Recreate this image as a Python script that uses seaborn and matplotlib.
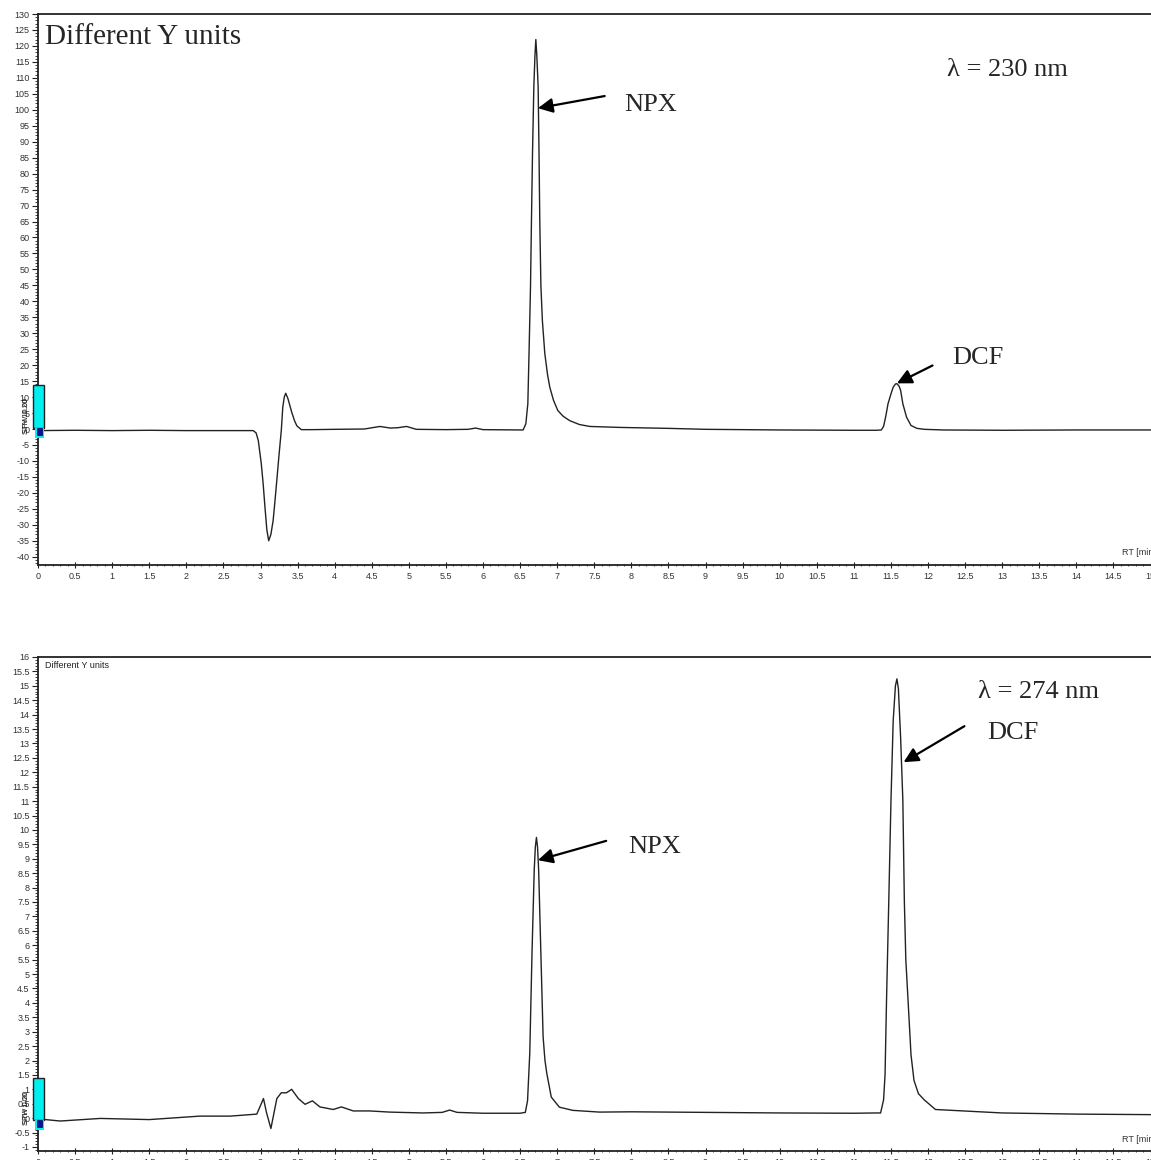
import numpy as np
import pandas as pd
import matplotlib
matplotlib.use("Agg")
import matplotlib.pyplot as plt
import matplotlib.ticker as mticker
from matplotlib.patches import Rectangle
import seaborn as sns

# ---------------- data ----------------
# 230 nm trace (top)
t230 = [0.0, 0.5, 1.0, 1.5, 2.0, 2.5, 2.9, 2.94, 2.97, 3.01, 3.035, 3.06, 3.085, 3.11, 3.14,
        3.17, 3.195, 3.22, 3.25, 3.28, 3.30, 3.32, 3.34, 3.37, 3.42, 3.46, 3.49, 3.55,
        3.7, 4.0, 4.4, 4.61, 4.75, 4.85, 4.97, 5.1, 5.5, 5.8, 5.9, 6.0,
        6.50, 6.54, 6.577, 6.604, 6.62, 6.640, 6.653, 6.667, 6.685, 6.700, 6.712, 6.725,
        6.743, 6.755, 6.765, 6.78, 6.80, 6.833, 6.87, 6.90, 6.95, 7.008, 7.08, 7.17, 7.3,
        7.44, 7.84, 8.5, 9.0, 10.0, 11.0, 11.3, 11.37, 11.40, 11.43, 11.46, 11.50, 11.53,
        11.56, 11.58, 11.61, 11.63, 11.66, 11.71, 11.77, 11.85, 11.95, 12.2, 13.0, 14.0, 15.1]
s230 = [-0.5, -0.4, -0.5, -0.4, -0.5, -0.5, -0.5, -1.2, -3.6, -10.8, -17.0, -24.5, -31.5, -35.0, -33.0,
        -28.7, -22.5, -16.0, -8.0, -0.5, 6.8, 10.0, 11.2, 9.5, 5.3, 2.5, 1.0, -0.2,
        -0.2, -0.1, 0.0, 0.8, 0.3, 0.4, 0.8, -0.1, -0.2, -0.1, 0.3, -0.2,
        -0.3, -0.3, 1.6, 7.9, 23.6, 44.5, 65.4, 86.3, 107.2, 117.0, 122.0, 117.0,
        107.2, 86.0, 65.4, 45.0, 34.0, 23.6, 17.0, 13.1, 9.0, 5.8, 4.0, 2.6, 1.4,
        0.8, 0.5, 0.2, -0.1, -0.3, -0.4, -0.4, -0.3, 0.8, 4.0, 7.9, 11.0, 13.1,
        14.1, 14.2, 13.4, 12.1, 7.9, 3.7, 1.1, 0.2, -0.1, -0.3, -0.4, -0.3, -0.3]

# 274 nm trace (bottom)
t274 = [0.0, 0.1, 0.3, 0.84, 1.5, 2.18, 2.59, 2.95, 3.04, 3.08, 3.14, 3.22, 3.28, 3.35,
        3.42, 3.51, 3.60, 3.70, 3.80, 3.98, 4.09, 4.25, 4.47, 4.74, 5.19, 5.45, 5.55,
        5.65, 6.0, 6.5, 6.57, 6.60, 6.63, 6.66, 6.69, 6.705, 6.72, 6.735, 6.75, 6.78,
        6.81, 6.835, 6.86, 6.92, 7.03, 7.21, 7.57, 8.0, 9.0, 10.0, 11.0, 11.3, 11.36,
        11.40, 11.42, 11.44, 11.47, 11.50, 11.53, 11.56, 11.58, 11.60, 11.63, 11.66, 11.68,
        11.70, 11.73, 11.77, 11.81, 11.87, 11.95, 12.1, 13.0, 14.0, 15.1]
s274 = [-0.05, -0.05, -0.10, -0.01, -0.05, 0.07, 0.07, 0.14, 0.68, 0.20, -0.36, 0.68, 0.88, 0.88,
        1.00, 0.68, 0.48, 0.60, 0.39, 0.30, 0.39, 0.25, 0.25, 0.21, 0.18, 0.20, 0.28,
        0.20, 0.17, 0.17, 0.20, 0.60, 2.25, 5.7, 8.6, 9.4, 9.74, 9.4, 8.6, 5.7,
        2.82, 2.0, 1.55, 0.73, 0.38, 0.27, 0.21, 0.22, 0.20, 0.18, 0.17, 0.18, 0.18,
        0.63, 1.5, 4.09, 7.5, 11.03, 13.8, 15.0, 15.24, 14.9, 13.2, 11.03, 7.56,
        5.5, 4.09, 2.2, 1.31, 0.85, 0.63, 0.30, 0.18, 0.14, 0.12]

x_ticks = np.arange(0, 15.01, 0.5)
y_ticks_top = np.arange(-40, 130.1, 5)
y_ticks_bot = np.arange(-1, 16.01, 0.5)

df230 = pd.DataFrame({"RT": t230, "signal": s230})
df274 = pd.DataFrame({"RT": t274, "signal": s274})

# ---------------- figure ----------------
sns.set_theme(style="white")
plt.rcParams["font.family"] = ["Liberation Sans", "DejaVu Sans"]

W, H = 1151, 1160
fig = plt.figure(figsize=(W / 100, H / 100), dpi=100)

def px_axes(left, top, right, bottom):
    return fig.add_axes([left / W, 1 - bottom / H, (right - left) / W, (bottom - top) / H])

ax1 = px_axes(38, 14, 1158, 565)
ax2 = px_axes(38, 657, 1158, 1151)

tick_col = "#333333"
for ax, df, yt, ylim, minor_y in [
    (ax1, df230, y_ticks_top, (-42.6, 130), 1.0),
    (ax2, df274, y_ticks_bot, (-1.14, 16), 0.1),
]:
    sns.lineplot(data=df, x="RT", y="signal", ax=ax, color="#222222", lw=1.0,
                 estimator=None, sort=False)
    ax.set_xlim(0, 15.1)
    ax.set_ylim(*ylim)
    ax.set_xticks(x_ticks)
    ax.set_yticks(yt)
    ax.xaxis.set_minor_locator(mticker.MultipleLocator(0.1))
    ax.yaxis.set_minor_locator(mticker.MultipleLocator(minor_y))
    fmt = mticker.FuncFormatter(lambda v, p: f"{v:g}")
    ax.xaxis.set_major_formatter(fmt)
    ax.yaxis.set_major_formatter(fmt)
    ax.tick_params(axis="both", which="major", labelsize=6.5, colors="#222222",
                   labelcolor=tick_col, length=4, width=0.8)
    ax.tick_params(axis="both", which="minor", length=2, width=0.6, colors="#222222")
    ax.tick_params(axis="x", which="both", direction="inout", bottom=True, pad=3)
    ax.tick_params(axis="y", which="both", direction="out", left=True, pad=2)
    ax.set_xlabel("")
    ax.set_ylabel("")
    for side in ["left", "bottom", "top"]:
        ax.spines[side].set_visible(True)
        ax.spines[side].set_color("#222222")
        ax.spines[side].set_linewidth(1.3)
    ax.spines["right"].set_visible(False)
    ax.grid(False)
    ax.text(14.61, 0.015, "RT [min]", transform=ax.get_xaxis_transform(),
            fontsize=6.5, color=tick_col, ha="left", va="bottom")

serif = ["Liberation Serif", "DejaVu Serif"]
arrow = dict(arrowstyle="-|>", mutation_scale=22, lw=1.6, color="black",
             shrinkA=0, shrinkB=0)

# top panel texts
ax1.text(0.094, 122.8, "Different Y units", fontsize=21, family=serif, va="center", ha="left")
ax1.text(12.25, 112.4, "λ = 230 nm", fontsize=19, family=serif, va="center", ha="left")
ax1.text(7.91, 101.5, "NPX", fontsize=19, family=serif, va="center", ha="left")
ax1.text(12.32, 22.1, "DCF", fontsize=19, family=serif, va="center", ha="left")
ax1.annotate("", xy=(6.74, 100.5), xytext=(7.64, 104.3), arrowprops=arrow)
ax1.annotate("", xy=(11.58, 14.3), xytext=(12.06, 19.9), arrowprops=arrow)

# bottom panel texts
ax2.text(0.094, 15.72, "Different Y units", fontsize=6.5, color="#222222", va="center", ha="left")
ax2.text(12.67, 14.78, "λ = 274 nm", fontsize=19, family=serif, va="center", ha="left")
ax2.text(7.96, 9.4, "NPX", fontsize=19, family=serif, va="center", ha="left")
ax2.text(12.8, 13.36, "DCF", fontsize=19, family=serif, va="center", ha="left")
ax2.annotate("", xy=(6.74, 8.95), xytext=(7.66, 9.62), arrowprops=arrow)
ax2.annotate("", xy=(11.67, 12.35), xytext=(12.49, 13.6), arrowprops=arrow)

# cyan software markers on the y axis
def marker(top, bottom, labels):
    fig.patches.append(Rectangle((33 / W, 1 - bottom / H), 11 / W, (bottom - top) / H,
                                 transform=fig.transFigure, facecolor="#00f0f0",
                                 edgecolor="#222222", lw=1.0, zorder=5))
    fig.patches.append(Rectangle((35 / W, 1 - (bottom + 10) / H), 9 / W, 10 / H,
                                 transform=fig.transFigure, facecolor="#00f0f0",
                                 edgecolor="none", zorder=5))
    fig.patches.append(Rectangle((36.5 / W, 1 - (bottom + 7) / H), 5 / W, 7 / H,
                                 transform=fig.transFigure, facecolor="#1010a0",
                                 edgecolor="#101060", lw=0.6, zorder=6))
    for lab in labels:
        fig.text(26 / W, 1 - (bottom - 12) / H, lab, rotation=90, fontsize=5.5,
                 color="#222222", ha="center", va="center")

marker(385, 428, ["SPW 0.20", "STH 10.00"])
marker(1078, 1120, ["SPW 0.20", "STH 1.00"])

fig.savefig("out.png", dpi=100)
